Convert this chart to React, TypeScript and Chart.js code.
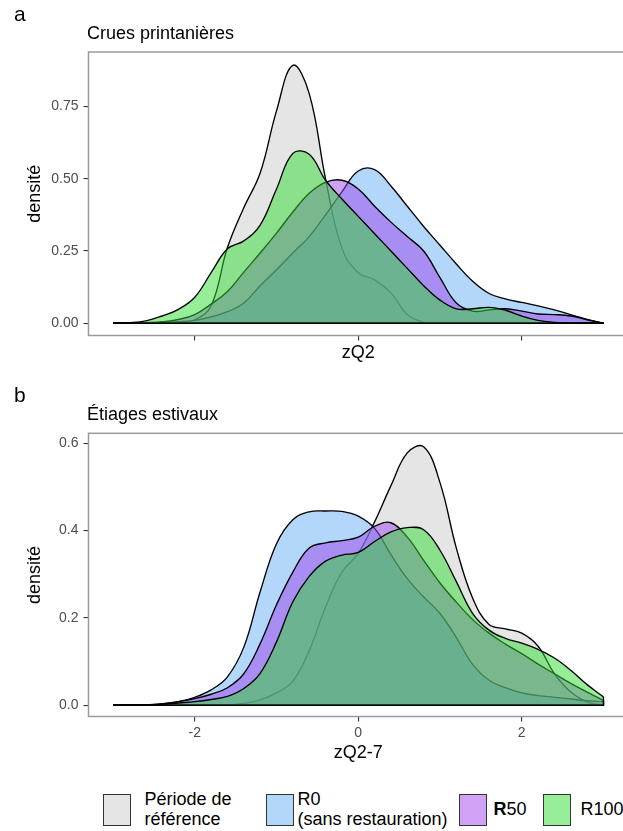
import React, { useEffect, useRef } from 'react';
import { Chart, registerables } from 'chart.js';

Chart.register(...registerables);

// sampling positions of the density curves (zQ)
const X_GRID = [-3.0, -2.8, -2.6, -2.4, -2.2, -2.0, -1.8, -1.6, -1.4, -1.2, -1.0, -0.8, -0.6, -0.4, -0.2, 0.0, 0.2, 0.4, 0.6, 0.8, 1.0, 1.2, 1.4, 1.6, 1.8, 2.0, 2.2, 2.4, 2.6, 2.8, 3.0];

// panel a : Crues printanières (zQ2)
const REF_CRUES = [0, 0, 0, 0.001, 0.003, 0.012, 0.06, 0.262, 0.40, 0.52, 0.735, 0.893, 0.795, 0.50, 0.26, 0.175, 0.15, 0.105, 0.03, 0.003, 0, 0, 0, 0, 0, 0, 0, 0, 0, 0, 0];
const R0_CRUES = [0, 0, 0.001, 0.002, 0.005, 0.01, 0.022, 0.04, 0.07, 0.13, 0.185, 0.243, 0.30, 0.375, 0.455, 0.527, 0.532, 0.475, 0.405, 0.335, 0.27, 0.205, 0.145, 0.103, 0.084, 0.072, 0.06, 0.046, 0.03, 0.013, 0];
const R50_CRUES = [0, 0, 0.002, 0.005, 0.013, 0.03, 0.066, 0.11, 0.177, 0.243, 0.312, 0.385, 0.45, 0.488, 0.495, 0.465, 0.405, 0.35, 0.30, 0.25, 0.158, 0.07, 0.042, 0.046, 0.05, 0.042, 0.032, 0.03, 0.025, 0.012, 0];
const R100_CRUES = [0, 0.002, 0.008, 0.025, 0.048, 0.09, 0.175, 0.258, 0.285, 0.34, 0.465, 0.588, 0.585, 0.495, 0.43, 0.37, 0.31, 0.25, 0.19, 0.13, 0.08, 0.05, 0.05, 0.055, 0.045, 0.025, 0.01, 0.003, 0, 0, 0];

// panel b : Étiages estivaux (zQ2-7)
const REF_ETIAGES = [0, 0, 0, 0, 0, 0, 0, 0, 0.004, 0.012, 0.028, 0.055, 0.125, 0.225, 0.305, 0.348, 0.42, 0.503, 0.578, 0.592, 0.51, 0.36, 0.245, 0.185, 0.175, 0.165, 0.135, 0.072, 0.03, 0.007, 0];
const R0_ETIAGES = [0, 0, 0.001, 0.003, 0.008, 0.018, 0.035, 0.065, 0.133, 0.26, 0.37, 0.425, 0.443, 0.445, 0.444, 0.433, 0.405, 0.345, 0.29, 0.248, 0.21, 0.155, 0.093, 0.057, 0.04, 0.028, 0.022, 0.018, 0.014, 0.01, 0.008];
const R50_ETIAGES = [0, 0, 0.001, 0.003, 0.008, 0.015, 0.025, 0.04, 0.072, 0.141, 0.23, 0.305, 0.36, 0.372, 0.377, 0.385, 0.41, 0.418, 0.385, 0.332, 0.28, 0.236, 0.196, 0.165, 0.14, 0.118, 0.094, 0.072, 0.05, 0.03, 0.011];
const R100_ETIAGES = [0, 0, 0.001, 0.002, 0.005, 0.008, 0.013, 0.02, 0.038, 0.073, 0.145, 0.237, 0.295, 0.33, 0.344, 0.35, 0.375, 0.397, 0.407, 0.402, 0.355, 0.283, 0.21, 0.172, 0.153, 0.142, 0.128, 0.108, 0.08, 0.047, 0.019];

const X_TICKS = [-2, 0, 2];
const X_TICK_LABELS = ['-2', '0', '2'];
const Y_TICKS_CRUES = [0, 0.25, 0.5, 0.75];
const Y_TICK_LABELS_CRUES = ['0.00', '0.25', '0.50', '0.75'];
const Y_TICKS_ETIAGES = [0, 0.2, 0.4, 0.6];
const Y_TICK_LABELS_ETIAGES = ['0.0', '0.2', '0.4', '0.6'];

const SERIES_NAMES = ['Période de référence', 'R0 (sans restauration)', 'R50', 'R100'];
const FILLS = ['rgba(204,204,204,0.5)', 'rgba(102,176,245,0.5)', 'rgba(160,70,235,0.5)', 'rgba(50,220,50,0.5)'];

const FONT = "'Liberation Sans', Arial, Helvetica, sans-serif";

const panelBorder = {
  id: 'panelBorder',
  afterDatasetsDraw(chart: any) {
    const { ctx, chartArea: a } = chart;
    ctx.save();
    ctx.strokeStyle = '#9a9a9a';
    ctx.lineWidth = 1.5;
    ctx.strokeRect(a.left, a.top, a.right - a.left, a.bottom - a.top);
    ctx.restore();
  },
};

interface PanelCfg {
  series: number[][];
  yMin: number;
  yMax: number;
  yTicks: number[];
  yLabels: string[];
  xLabels: string[] | null;
  xTitle: string;
  padTop: number;
  xAxisHeight: number;
  xTitlePad: number;
}

function buildChart(canvas: HTMLCanvasElement, cfg: PanelCfg) {
  const datasets: any[] = [];
  const last = X_GRID.length - 1;
  cfg.series.forEach((vals, i) => {
    datasets.push({
      label: SERIES_NAMES[i],
      data: X_GRID.map((x, j) => ({ x, y: vals[j] })),
      fill: 'origin',
      backgroundColor: FILLS[i],
      borderColor: '#000',
      borderWidth: 1.35,
      pointRadius: 0,
      tension: 0.4,
      order: 8 - 2 * i,
    });
    datasets.push({
      label: SERIES_NAMES[i] + ' contour',
      data: [
        { x: X_GRID[0], y: 0 },
        { x: X_GRID[last], y: 0 },
        { x: X_GRID[last], y: vals[last] },
      ],
      fill: false,
      borderColor: '#000',
      borderWidth: 1.35,
      pointRadius: 0,
      tension: 0,
      order: 7 - 2 * i,
    });
  });

  return new Chart(canvas, {
    type: 'line',
    data: { datasets },
    options: {
      animation: false,
      responsive: false,
      events: [],
      layout: { padding: { left: 0, top: cfg.padTop, right: 12, bottom: 0 } },
      plugins: {
        legend: { display: false },
        tooltip: { enabled: false },
        title: { display: false },
      },
      scales: {
        x: {
          type: 'linear',
          min: -3.3,
          max: 3.3,
          afterBuildTicks: (s: any) => {
            s.ticks = X_TICKS.map((v) => ({ value: v }));
          },
          afterFit: (s: any) => {
            s.height = cfg.xAxisHeight;
          },
          ticks: {
            autoSkip: false,
            maxRotation: 0,
            padding: 3,
            color: '#4d4d4d',
            font: { family: FONT, size: 14 },
            callback: (_v: any, idx: number) => (cfg.xLabels ? cfg.xLabels[idx] : ''),
          },
          grid: { drawOnChartArea: false, drawTicks: true, tickLength: 5, color: '#333333', lineWidth: 1.1 },
          border: { display: false },
          title: {
            display: true,
            text: cfg.xTitle,
            color: '#000',
            font: { family: FONT, size: 18, lineHeight: 1.2 },
            padding: { top: 0, bottom: cfg.xTitlePad },
          },
        },
        y: {
          type: 'linear',
          position: 'left',
          min: cfg.yMin,
          max: cfg.yMax,
          afterBuildTicks: (s: any) => {
            s.ticks = cfg.yTicks.map((v) => ({ value: v }));
          },
          afterFit: (s: any) => {
            s.width = 88.5;
          },
          ticks: {
            autoSkip: false,
            padding: 5,
            color: '#4d4d4d',
            font: { family: FONT, size: 14 },
            callback: (_v: any, idx: number) => cfg.yLabels[idx],
          },
          grid: { drawOnChartArea: false, drawTicks: true, tickLength: 5, color: '#333333', lineWidth: 1.1 },
          border: { display: false },
          title: {
            display: true,
            text: 'densité',
            color: '#000',
            font: { family: FONT, size: 18, lineHeight: 1.2 },
            padding: { top: 24, bottom: 0 },
          },
        },
      },
    },
    plugins: [panelBorder],
  } as any);
}

const textBase: React.CSSProperties = {
  position: 'absolute',
  fontFamily: FONT,
  color: '#000',
  whiteSpace: 'nowrap',
  lineHeight: 1,
  margin: 0,
};

const legendText: React.CSSProperties = {
  position: 'absolute',
  fontFamily: FONT,
  fontSize: 18,
  lineHeight: '20px',
  color: '#000',
  whiteSpace: 'nowrap',
};

function keyBox(left: number, color: string): React.CSSProperties {
  return {
    position: 'absolute',
    left,
    top: 793.5,
    width: 28,
    height: 32,
    boxSizing: 'border-box',
    border: '1.3px solid #333',
    background: color,
  };
}

export default function App() {
  const topRef = useRef<HTMLCanvasElement>(null);
  const botRef = useRef<HTMLCanvasElement>(null);

  useEffect(() => {
    const c1 = buildChart(topRef.current!, {
      series: [REF_CRUES, R0_CRUES, R50_CRUES, R100_CRUES],
      yMin: -0.0425,
      yMax: 0.939,
      yTicks: Y_TICKS_CRUES,
      yLabels: Y_TICK_LABELS_CRUES,
      xLabels: null,
      xTitle: 'zQ2',
      padTop: 52,
      xAxisHeight: 36.5,
      xTitlePad: 7.9,
    });
    const c2 = buildChart(botRef.current!, {
      series: [REF_ETIAGES, R0_ETIAGES, R50_ETIAGES, R100_ETIAGES],
      yMin: -0.026,
      yMax: 0.623,
      yTicks: Y_TICKS_ETIAGES,
      yLabels: Y_TICK_LABELS_ETIAGES,
      xLabels: X_TICK_LABELS,
      xTitle: 'zQ2-7',
      padTop: 61.3,
      xAxisHeight: 55.5,
      xTitlePad: 7.9,
    });
    return () => {
      c1.destroy();
      c2.destroy();
    };
  }, []);

  return (
    <div
      style={{
        position: 'absolute',
        left: 0,
        top: 0,
        width: 623,
        height: 831,
        overflow: 'hidden',
        background: '#fff',
      }}
    >
      <canvas ref={topRef} width={640} height={372} style={{ position: 'absolute', left: 0, top: 0 }} />
      <canvas ref={botRef} width={640} height={400} style={{ position: 'absolute', left: 0, top: 372 }} />

      <div style={{ ...textBase, left: 14, top: 2.9, fontSize: 21 }}>a</div>
      <div style={{ ...textBase, left: 87, top: 24.1, fontSize: 18 }}>Crues printanières</div>
      <div style={{ ...textBase, left: 14, top: 383.9, fontSize: 21 }}>b</div>
      <div style={{ ...textBase, left: 87, top: 404.8, fontSize: 18 }}>Étiages estivaux</div>

      <div style={keyBox(103, FILLS[0])} />
      <div style={{ ...legendText, left: 144.5, top: 788.5 }}>
        Période de
        <br />
        référence
      </div>
      <div style={keyBox(265.5, FILLS[1])} />
      <div style={{ ...legendText, left: 297.5, top: 788.5 }}>
        R0
        <br />
        (sans restauration)
      </div>
      <div style={keyBox(459, FILLS[2])} />
      <div style={{ ...legendText, left: 493.5, top: 799.4 }}>
        <span style={{ fontWeight: 'bold' }}>R</span>50
      </div>
      <div style={keyBox(543, FILLS[3])} />
      <div style={{ ...legendText, left: 580.5, top: 799.4 }}>R100</div>
    </div>
  );
}
